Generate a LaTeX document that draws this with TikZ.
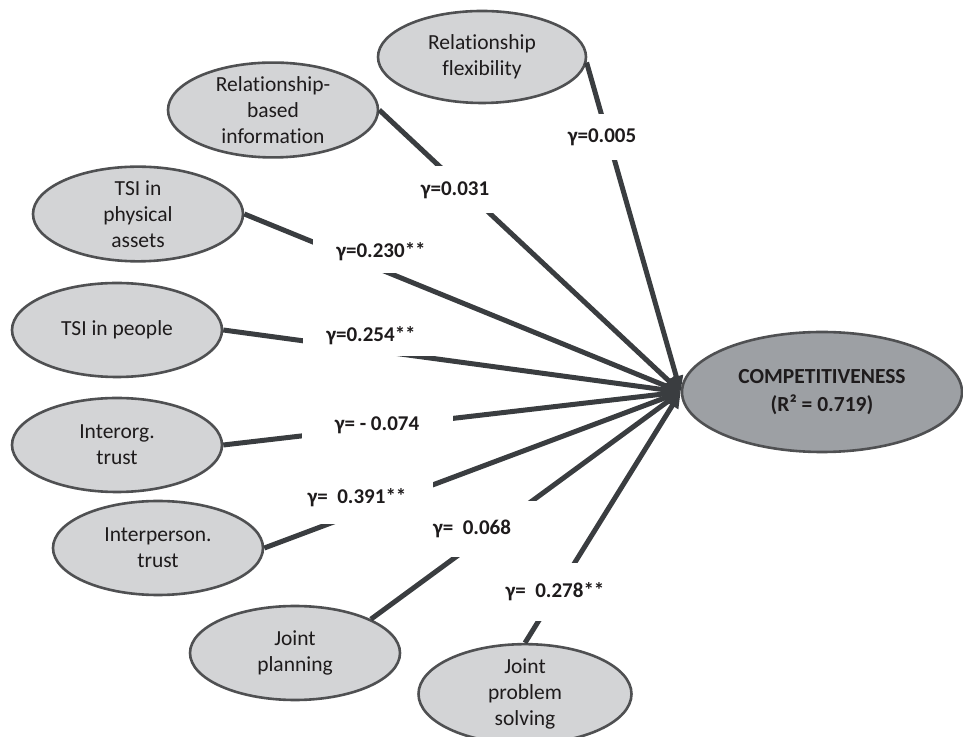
\documentclass[tikz,border=0pt]{standalone}
\usepackage{fontspec}
\setmainfont{Carlito}[Ligatures=NoCommon]
\usetikzlibrary{shapes.geometric,arrows.meta}
\definecolor{linkgray}{HTML}{3A3D40}
\definecolor{nodefill}{HTML}{D3D4D6}
\definecolor{nodeedge}{HTML}{4F5052}
\definecolor{mainfill}{HTML}{9DA0A4}
\definecolor{inktext}{HTML}{1E1B1C}
\begin{document}
\begin{tikzpicture}[x=1pt,y=1pt,
  construct/.style={ellipse, draw=nodeedge, line width=2.6pt, fill=nodefill,
    inner sep=0pt, minimum width=210pt, minimum height=94pt, align=center,
    text=inktext, font=\fontsize{21.5}{26}\selectfont},
  outcome/.style={construct, fill=mainfill, minimum width=280pt,
    minimum height=120pt, font=\fontsize{21.5}{28}\selectfont\bfseries},
  link/.style={draw=linkgray, line width=5pt,
    -{Triangle[length=16pt,width=13pt]}},
  coef/.style={fill=white, inner sep=0pt, text=inktext,
    font=\fontsize{21}{25}\selectfont\bfseries}
]
\useasboundingbox (0,0) rectangle (963,736);

% latent constructs
\node[construct, minimum width=208pt, minimum height=92pt] (rf) at (482,679) {Relationship\\flexibility};
\node[construct] (rbi) at (273,626) {Relationship-\\based\\information};
\node[construct] (tsia) at (138,522) {TSI in\\physical\\assets};
\node[construct] (tsip) at (117,406) {TSI in people};
\node[construct] (iot) at (117,291) {Interorg.\\trust};
\node[construct] (ipt) at (158,188) {Interperson.\\trust};
\node[construct] (jp) at (295,83) {Joint\\planning};
\node[construct, minimum width=213pt] (jps) at (525,42) {Joint\\problem\\solving};
\node[outcome] (comp) at (822,344) {COMPETITIVENESS\\(R² = 0.719)};

% structural paths
\draw[link] (rf.-3) -- (comp.west);
\draw[link] (rbi.east) -- (comp.west);
\draw[link] (tsia.east) -- (comp.west);
\draw[link] (tsip.east) -- (comp.west);
\draw[link] (iot.east) -- (comp.west);
\draw[link] (ipt.east) -- (comp.west);
\draw[link] (jp.24) -- (comp.west);
\draw[link] (jps.north) -- (comp.west);

% path coefficients
\node[coef, minimum width=85pt, minimum height=46pt] (g1) at (602,599) {γ=0.005};
\node[coef, minimum width=90pt, minimum height=47pt] (g2) at (455,546) {γ=0.031};
\node[coef, minimum width=136pt, minimum height=42pt] (g3) at (381,484) {γ=0.230**};
\node[coef, minimum width=136pt, minimum height=40pt] (g4) at (371,400) {γ=0.254**};
\node[coef, minimum width=151pt, minimum height=36pt] (g5) at (377,311) {γ= - 0.074};
\node[coef, minimum width=152pt, minimum height=52pt] (g6) at (357,238) {γ= \ 0.391**};
\node[coef, minimum width=130pt, minimum height=56pt] (g7) at (472,207) {γ= \ 0.068};
\node[coef, minimum width=120pt, minimum height=58pt] (g8) at (555,144) {γ= \ 0.278**};
\end{tikzpicture}
\end{document}
